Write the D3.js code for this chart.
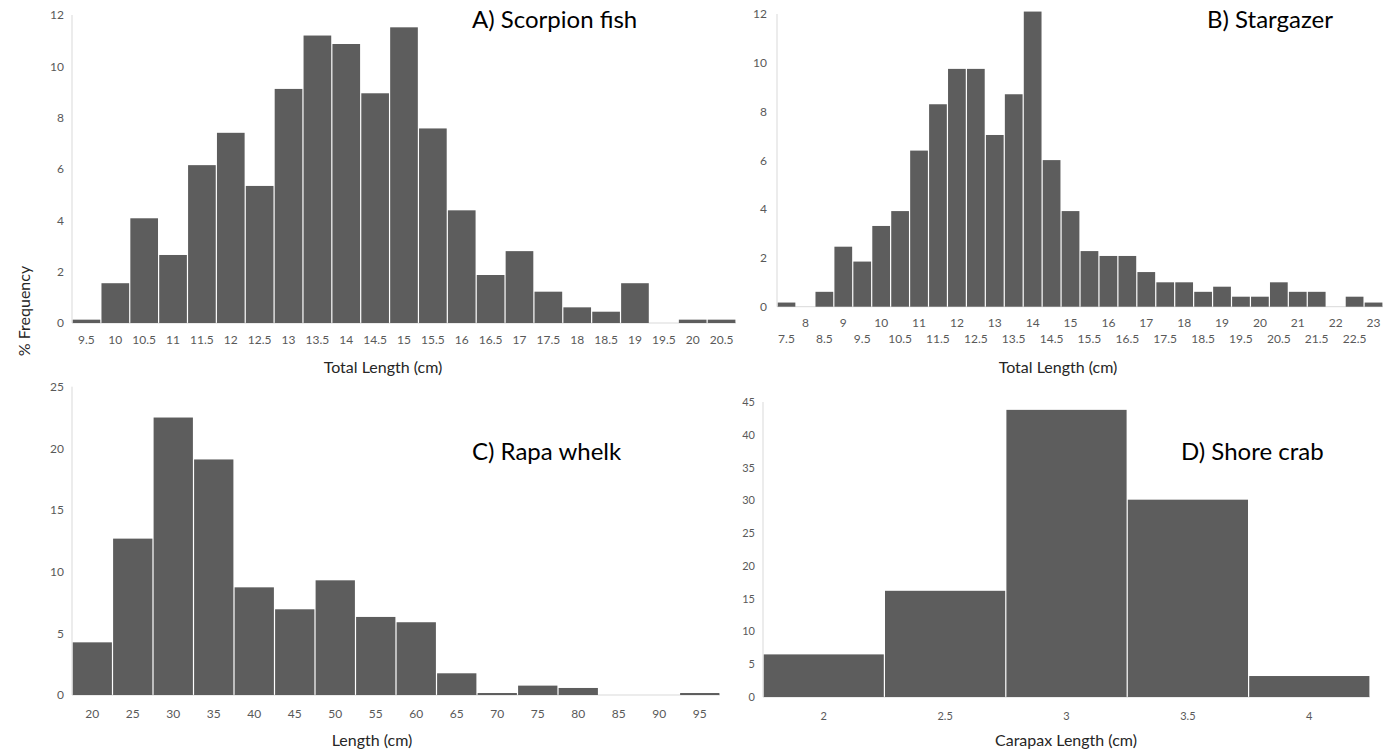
<!DOCTYPE html>
<html lang="en">
<head>
  <meta charset="utf-8" />
  <script src="https://d3js.org/d3.v7.min.js"></script>
  <style>
    body { margin: 0; background: #fff; }
    text { font-family: Lato, "Open Sans", sans-serif; }
  </style>
</head>
<body>
<script>
// A) Scorpion fish - total length bins (cm) and % frequency
var scorpionBins = ["9.5","10","10.5","11","11.5","12","12.5","13","13.5","14","14.5","15","15.5","16","16.5","17","17.5","18","18.5","19","19.5","20","20.5"];
var scorpionFreq = [0.13,1.55,4.08,2.65,6.15,7.41,5.34,9.12,11.2,10.87,8.95,11.52,7.58,4.39,1.87,2.8,1.22,0.61,0.44,1.55,0,0.13,0.13];

// B) Stargazer
var stargazerBins = ["7.5","8","8.5","9","9.5","10","10.5","11","11.5","12","12.5","13","13.5","14","14.5","15","15.5","16","16.5","17","17.5","18","18.5","19","19.5","20","20.5","21","21.5","22","22.5","23"];
var stargazerFreq = [0.17,0,0.61,2.46,1.85,3.31,3.92,6.4,8.3,9.75,9.75,7.04,8.71,12.1,6.01,3.92,2.28,2.08,2.08,1.42,1.0,1.0,0.61,0.82,0.41,0.41,1.0,0.61,0.61,0,0.41,0.17];

// C) Rapa whelk
var whelkBins = ["20","25","30","35","40","45","50","55","60","65","70","75","80","85","90","95"];
var whelkFreq = [4.27,12.68,22.5,19.1,8.73,6.95,9.3,6.33,5.9,1.76,0.16,0.76,0.57,0,0,0.16];

// D) Shore crab
var crabBins = ["2","2.5","3","3.5","4"];
var crabFreq = [6.5,16.2,43.8,30.1,3.2];

var yTicksA = [0,2,4,6,8,10,12];
var yTicksB = [0,2,4,6,8,10,12];
var yTicksC = [0,5,10,15,20,25];
var yTicksD = [0,5,10,15,20,25,30,35,40,45];

var svg = d3.select("body").append("svg")
  .attr("width", 1384)
  .attr("height", 755);

function drawPanel(p) {
  var x = d3.scaleBand().domain(p.bins).range([p.x0, p.x1]).padding(0);
  var y = d3.scaleLinear().domain([0, p.yMax]).range([p.y0, p.y1]);
  var g = svg.append("g");

  // x axis line first so bars sit on top of it
  var xAxis = g.append("g")
    .attr("transform", "translate(0," + p.y0 + ")")
    .call(d3.axisBottom(x).tickSize(0).tickPadding(p.xPad));
  xAxis.select(".domain").attr("stroke", "#d9d9d9").attr("d", "M" + p.x0 + ",0H" + p.x1);
  xAxis.selectAll("text").attr("fill", "#595959").style("font-size", p.tickSize + "px")
    .style("font-family", "Lato, sans-serif");
  if (p.stagger) {
    // integer labels on first row, halves on second row
    xAxis.selectAll(".tick text")
      .attr("y", function (d, i) { return i % 2 == 1 ? p.xPad : p.xPad + 16; });
  }

  // bars, a thin light gap between neighbours
  g.selectAll("rect.bar")
    .data(p.freq)
    .join("rect")
    .attr("class", "bar")
    .attr("x", function (d, i) { return x(p.bins[i]) + 0.6; })
    .attr("width", x.bandwidth() - 1.2)
    .attr("y", function (d) { return y(d); })
    .attr("height", function (d) { return p.y0 - y(d); })
    .attr("fill", "#5d5d5d")
    .style("display", function (d) { return d > 0 ? null : "none"; });

  // y axis
  var yAxis = g.append("g")
    .attr("transform", "translate(" + p.x0 + ",0)")
    .call(d3.axisLeft(y).tickValues(p.yTicks).tickSize(0).tickPadding(p.yPad));
  yAxis.select(".domain").attr("stroke", "#d9d9d9").attr("d", "M0," + p.y0 + "V" + p.y1);
  yAxis.selectAll("text").attr("fill", "#595959").style("font-size", p.tickSize + "px")
    .style("font-family", "Lato, sans-serif");

  // axis title
  g.append("text")
    .attr("x", p.titleX)
    .attr("y", p.titleY)
    .attr("text-anchor", "middle")
    .attr("fill", "#262626")
    .style("font-size", "16px")
    .text(p.axisTitle);

  // panel label
  g.append("text")
    .attr("x", p.labelX)
    .attr("y", p.labelY)
    .attr("fill", "#000")
    .style("font-size", "24px")
    .text(p.label);
}

drawPanel({
  bins: scorpionBins, freq: scorpionFreq, yMax: 12, yTicks: yTicksA,
  x0: 72, x1: 736, y0: 323, y1: 15, yPad: 8, xPad: 12, tickSize: 12,
  axisTitle: "Total Length (cm)", titleX: 383, titleY: 373,
  label: "A) Scorpion fish", labelX: 472, labelY: 28
});

drawPanel({
  bins: stargazerBins, freq: stargazerFreq, yMax: 12, yTicks: yTicksB,
  x0: 777, x1: 1383, y0: 306.7, y1: 14, yPad: 10, xPad: 12, tickSize: 12, stagger: true,
  axisTitle: "Total Length (cm)", titleX: 1058, titleY: 373,
  label: "B) Stargazer", labelX: 1207, labelY: 28
});

drawPanel({
  bins: whelkBins, freq: whelkFreq, yMax: 25, yTicks: yTicksC,
  x0: 72, x1: 720, y0: 695, y1: 386.7, yPad: 8, xPad: 14, tickSize: 12,
  axisTitle: "Length (cm)", titleX: 372, titleY: 746,
  label: "C) Rapa whelk", labelX: 472, labelY: 460
});

drawPanel({
  bins: crabBins, freq: crabFreq, yMax: 45, yTicks: yTicksD,
  x0: 763, x1: 1370, y0: 697, y1: 402, yPad: 8, xPad: 15, tickSize: 11,
  axisTitle: "Carapax Length (cm)", titleX: 1066, titleY: 746,
  label: "D) Shore crab", labelX: 1181, labelY: 460
});

// shared y title
svg.append("text")
  .attr("transform", "translate(30,311) rotate(-90)")
  .attr("text-anchor", "middle")
  .attr("fill", "#262626")
  .style("font-size", "16px")
  .text("% Frequency");
</script>
</body>
</html>
